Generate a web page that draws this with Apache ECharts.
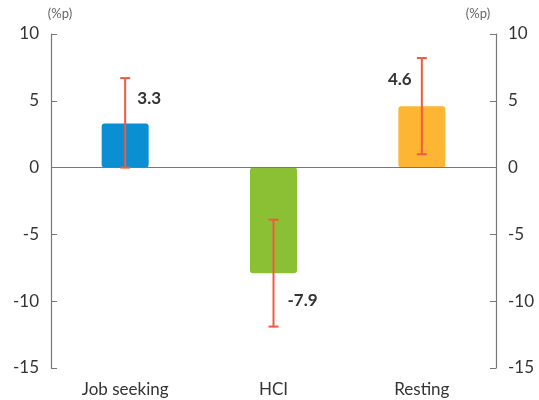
<!DOCTYPE html>
<html>
<head>
<meta charset="utf-8">
<script src="https://cdn.jsdelivr.net/npm/echarts@6/dist/echarts.min.js"></script>
<style>
  html, body { margin: 0; padding: 0; background: #fff; }
  #chart { width: 539px; height: 400px; }
</style>
</head>
<body>
<div id="chart"></div>
<script>
const categories = ['Job seeking', 'HCI', 'Resting']
const values = [3.3, -7.9, 4.6]
const errLow = [0, -11.9, 1.0]
const errHigh = [6.7, -3.9, 8.2]
const yTicks = { min: -15, max: 10, interval: 5 }

const barColors = ['#0b8fd3', '#8cc034', '#fdb633']
const labelOffsets = [[24, -11], [29, 14], [-22, -13]]

const chart = echarts.init(document.getElementById('chart'))

const axisCommon = {
  type: 'value',
  min: yTicks.min,
  max: yTicks.max,
  interval: yTicks.interval,
  name: '(%p)',
  nameLocation: 'end',
  nameGap: 14,
  axisLine: { show: true, lineStyle: { color: '#777', width: 1.2 } },
  axisTick: { show: true, inside: true, length: 6, lineStyle: { color: '#777' } },
  axisLabel: { color: '#333', fontSize: 17, fontFamily: 'Lato', margin: 12 },
  splitLine: { show: false }
}

chart.setOption({
  animation: false,
  textStyle: { fontFamily: 'Lato' },
  grid: { left: 51, right: 43, top: 34, bottom: 32, containLabel: false },
  xAxis: {
    type: 'category',
    data: categories,
    axisLine: { show: false },
    axisTick: { show: false },
    axisLabel: { color: '#333', fontSize: 17, fontFamily: 'Lato', margin: 13 }
  },
  yAxis: [
    Object.assign({}, axisCommon, {
      position: 'left',
      nameTextStyle: { color: '#666', fontSize: 13, fontFamily: 'Lato', padding: [0, 0, 0, 18] }
    }),
    Object.assign({}, axisCommon, {
      position: 'right',
      nameTextStyle: { color: '#666', fontSize: 13, fontFamily: 'Lato', padding: [0, 36, 0, 0] }
    })
  ],
  series: [
    {
      type: 'bar',
      barWidth: 47,
      data: values.map((v, i) => ({
        value: v,
        itemStyle: { color: barColors[i], borderRadius: 3 },
        label: {
          show: true,
          position: v >= 0 ? 'top' : 'bottom',
          offset: labelOffsets[i],
          color: '#333',
          fontSize: 17,
          fontWeight: 'bold',
          fontFamily: 'Lato'
        }
      })),
      markLine: {
        silent: true,
        symbol: 'none',
        label: { show: false },
        lineStyle: { color: '#777', type: 'solid', width: 1.2 },
        data: [{ yAxis: 0 }]
      }
    },
    {
      type: 'custom',
      data: categories.map((c, i) => [i, errLow[i], errHigh[i]]),
      z: 5,
      renderItem: function (params, api) {
        const lo = api.coord([api.value(0), api.value(1)])
        const hi = api.coord([api.value(0), api.value(2)])
        const cap = 5
        const style = { stroke: '#f15a40', lineWidth: 2 }
        return {
          type: 'group',
          children: [
            { type: 'line', shape: { x1: lo[0], y1: lo[1], x2: hi[0], y2: hi[1] }, style: style },
            { type: 'line', shape: { x1: lo[0] - cap, y1: lo[1], x2: lo[0] + cap, y2: lo[1] }, style: style },
            { type: 'line', shape: { x1: hi[0] - cap, y1: hi[1], x2: hi[0] + cap, y2: hi[1] }, style: style }
          ]
        }
      }
    }
  ]
})
</script>
</body>
</html>
